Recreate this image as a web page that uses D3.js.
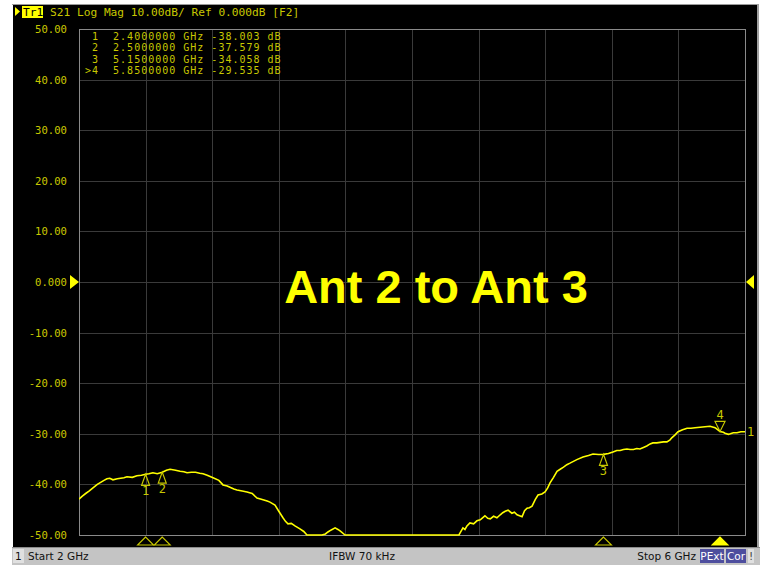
<!DOCTYPE html>
<html>
<head>
<meta charset="utf-8">
<script src="https://cdn.jsdelivr.net/npm/d3@7"></script>
<style>
  body { margin:0; background:#fff; }
  svg text { font-family:"DejaVu Sans Mono", monospace; }
</style>
</head>
<body>
<svg width="763" height="565"></svg>
<script>
// S21 trace, Ant 2 to Ant 3 (GHz, dB)
const freqs = [2.000,2.020,2.040,2.062,2.084,2.110,2.130,2.150,2.168,2.185,2.204,2.230,2.250,2.270,2.288,2.320,2.348,2.375,2.400,2.420,2.444,2.470,2.500,2.525,2.547,2.580,2.607,2.630,2.649,2.675,2.700,2.725,2.745,2.770,2.805,2.840,2.865,2.890,2.910,2.930,2.949,2.980,3.009,3.040,3.069,3.090,3.110,3.130,3.147,3.177,3.200,3.225,3.240,3.255,3.275,3.297,3.327,3.350,3.369,3.420,3.459,3.480,3.495,3.515,3.538,3.555,3.568,3.598,3.700,3.850,4.000,4.150,4.282,4.294,4.306,4.318,4.330,4.348,4.370,4.390,4.410,4.438,4.455,4.470,4.490,4.510,4.530,4.545,4.560,4.577,4.600,4.615,4.631,4.646,4.661,4.676,4.691,4.705,4.721,4.740,4.757,4.780,4.799,4.815,4.829,4.850,4.871,4.890,4.910,4.930,4.949,4.990,5.027,5.060,5.087,5.120,5.150,5.180,5.207,5.230,5.250,5.270,5.291,5.310,5.330,5.350,5.369,5.390,5.410,5.430,5.447,5.470,5.490,5.510,5.531,5.550,5.560,5.580,5.598,5.625,5.652,5.675,5.700,5.730,5.760,5.790,5.820,5.850,5.870,5.880,5.900,5.912,5.930,5.952,5.975,6.000];
const s21 = [-42.9,-42.3,-41.8,-41.3,-40.7,-40.0,-39.6,-39.2,-38.9,-38.8,-39.1,-38.9,-38.8,-38.7,-38.5,-38.6,-38.3,-38.2,-38.0,-37.9,-37.7,-37.9,-37.6,-37.2,-37.0,-37.2,-37.4,-37.5,-37.7,-37.6,-37.6,-37.8,-37.9,-38.2,-38.7,-39.2,-40.1,-40.3,-40.6,-40.9,-41.1,-41.3,-41.5,-41.8,-42.7,-42.9,-43.1,-43.3,-43.5,-44.1,-45.3,-46.6,-47.3,-47.8,-47.7,-48.2,-48.8,-49.3,-50.2,-51.5,-50.2,-49.8,-49.4,-49.0,-48.6,-48.9,-49.2,-50.3,-53.0,-56.0,-57.0,-54.0,-50.4,-49.3,-48.6,-48.9,-48.2,-47.6,-47.8,-47.2,-47.0,-46.2,-46.7,-46.8,-46.3,-46.6,-46.0,-45.6,-45.3,-45.1,-45.7,-45.5,-46.0,-46.2,-46.4,-45.2,-44.7,-44.6,-44.3,-43.0,-42.1,-41.9,-41.5,-40.7,-39.7,-38.6,-37.4,-37.0,-36.6,-36.1,-35.8,-35.1,-34.6,-34.3,-34.0,-34.1,-34.058,-33.9,-33.6,-33.3,-33.3,-33.1,-33.0,-33.1,-33.1,-32.9,-33.0,-32.7,-32.4,-32.0,-31.8,-31.8,-31.7,-31.6,-31.6,-31.2,-30.8,-30.2,-29.6,-29.2,-28.9,-28.9,-28.8,-28.7,-28.6,-28.5,-28.8,-29.535,-29.7,-29.9,-30.1,-30.0,-29.8,-29.8,-29.6,-29.6];

const markerId   = ['1','2','3','>4'];
const markerFreq = [2.4, 2.5, 5.15, 5.85];
const markerDb   = [-38.003, -37.579, -34.058, -29.535];

const yTicks = [50,40,30,20,10,0,-10,-20,-30,-40,-50];
const yTickText = ['50.00','40.00','30.00','20.00','10.00','0.000','-10.00','-20.00','-30.00','-40.00','-50.00'];

const header = 'S21 Log Mag 10.00dB/ Ref 0.000dB [F2]';
const title = 'Ant 2 to Ant 3';
const statusStart = 'Start 2 GHz', statusIfbw = 'IFBW 70 kHz', statusStop = 'Stop 6 GHz';

const L=79, R=745, T=29, B=535;
const yel='#ffff00', dim='#c8c800', grid='#3a3a3a';

const svg = d3.select('svg');
const x = d3.scaleLinear().domain([2,6]).range([L,R]);
const y = d3.scaleLinear().domain([-50,50]).range([B,T]);

// screen background
svg.append('rect').attr('x',13).attr('y',4).attr('width',745).attr('height',544).attr('fill','#000');
svg.append('line').attr('x1',12).attr('x2',759).attr('y1',4.5).attr('y2',4.5).attr('stroke','#9a9a9a');
svg.append('line').attr('x1',758).attr('x2',758).attr('y1',4).attr('y2',548).attr('stroke','#a0a0a0').attr('stroke-width',2);

// grid
const g = svg.append('g');
g.selectAll('line.v').data(d3.range(2.4,6,0.4)).enter().append('line')
  .attr('x1',d=>Math.round(x(d))+0.5).attr('x2',d=>Math.round(x(d))+0.5)
  .attr('y1',T).attr('y2',B).attr('stroke',grid);
g.selectAll('line.h').data(yTicks.slice(1,-1)).enter().append('line')
  .attr('x1',L).attr('x2',R)
  .attr('y1',d=>Math.round(y(d))+0.5).attr('y2',d=>Math.round(y(d))+0.5).attr('stroke',grid);
g.append('rect').attr('x',L+0.5).attr('y',T+0.5).attr('width',R-L).attr('height',B-T)
  .attr('fill','none').attr('stroke','#8a8a8a');

// y tick labels
svg.selectAll('text.yt').data(yTicks).enter().append('text')
  .attr('x',67).attr('y',d=>y(d)+4).attr('text-anchor','end')
  .attr('font-size',10.6).attr('fill',dim).text((d,i)=>yTickText[i]);

// reference level arrows
svg.append('path').attr('d',`M70,${y(0)-7}L79,${y(0)}L70,${y(0)+7}Z`).attr('fill',yel);
svg.append('path').attr('d',`M754,${y(0)-7}L746,${y(0)}L754,${y(0)+7}Z`).attr('fill',yel);

// header
svg.append('path').attr('d','M15,7L20,11.5L15,16Z').attr('fill',yel);
svg.append('rect').attr('x',22).attr('y',6).attr('width',21).attr('height',12).attr('fill',yel);
svg.append('text').attr('x',23).attr('y',16).attr('font-size',11.2).attr('fill','#000').text('Tr1');
svg.append('text').attr('x',50).attr('y',16).attr('font-size',11.2).attr('fill',dim).text(header);

// marker table
const rows = markerId.map((m,i)=>({m, f:markerFreq[i], v:markerDb[i]}));
svg.selectAll('text.mt').data(rows).enter().append('text')
  .attr('x',85).attr('y',(d,i)=>40+i*11.3).attr('font-size',10).attr('letter-spacing',1)
  .attr('fill',dim).attr('xml:space','preserve')
  .text(d=>`${d.m.padStart(2,' ')}  ${d.f.toFixed(7)} GHz ${d.v.toFixed(3)} dB`);

// trace
const clip = svg.append('clipPath').attr('id','pc');
clip.append('rect').attr('x',L).attr('y',T).attr('width',R-L).attr('height',B-T+1);
const pts = freqs.map((f,i)=>[f, Math.max(-50, s21[i])]);
svg.append('path').datum(pts).attr('clip-path','url(#pc)')
  .attr('d', d3.line().x(d=>x(d[0])).y(d=>y(d[1])))
  .attr('fill','none').attr('stroke',yel).attr('stroke-width',1.6);

// trace label at end
svg.append('text').attr('x',747).attr('y',y(s21[s21.length-1])+4).attr('font-size',12).attr('fill',dim).text('1');

// markers on trace
rows.forEach(d=>{
  const mx=x(d.f), my=y(d.v), active = d.m.startsWith('>');
  const num = d.m.replace('>','');
  if (!active) {
    svg.append('path').attr('d',`M${mx},${my}L${mx-4},${my+11}L${mx+4},${my+11}Z`)
      .attr('fill','none').attr('stroke',dim).attr('stroke-width',1.2);
    svg.append('text').attr('x',mx).attr('y',my+21).attr('text-anchor','middle')
      .attr('font-size',12).attr('fill',dim).text(num);
  } else {
    svg.append('path').attr('d',`M${mx},${my}L${mx-5},${my-10}L${mx+5},${my-10}Z`)
      .attr('fill','none').attr('stroke',dim).attr('stroke-width',1.2);
    svg.append('text').attr('x',mx).attr('y',my-12).attr('text-anchor','middle')
      .attr('font-size',12).attr('fill',dim).text(num);
  }
  // stimulus markers under the axis
  svg.append('path').attr('d',`M${mx},${B+2}L${mx-8},${B+10}L${mx+8},${B+10}Z`)
    .attr('fill',active?yel:'none').attr('stroke',active?yel:dim).attr('stroke-width',1.1);
});

// title
svg.append('text').attr('x',436).attr('y',303).attr('text-anchor','middle')
  .style('font-family','"Liberation Sans", Arial, sans-serif').attr('font-weight','bold')
  .attr('font-size',47).attr('fill',yel).text(title);

// status bar
svg.append('rect').attr('x',12).attr('y',547).attr('width',748).attr('height',18).attr('fill','#c4c4c4');
svg.append('line').attr('x1',12).attr('x2',760).attr('y1',547.5).attr('y2',547.5).attr('stroke','#8c8c8c');
svg.append('rect').attr('x',13).attr('y',549).attr('width',11).attr('height',14).attr('fill','#e0e0e0');
const sans = '"DejaVu Sans", sans-serif';
const st = (tx,ty,anchor,txt,fill) => svg.append('text').attr('x',tx).attr('y',ty)
  .attr('text-anchor',anchor).style('font-family',sans).attr('font-size',10.5).attr('fill',fill).text(txt);
st(15,560,'start','1','#111');
st(28,560,'start',statusStart,'#111');
st(362,560,'middle',statusIfbw,'#111');
st(696,560,'end',statusStop,'#111');
svg.append('rect').attr('x',700).attr('y',549).attr('width',24).attr('height',14).attr('fill','#4e4e9e');
st(712,560,'middle','PExt','#fff');
svg.append('rect').attr('x',726).attr('y',549).attr('width',20).attr('height',14).attr('fill','#4e4e9e');
st(736,560,'middle','Cor','#fff');
svg.append('rect').attr('x',748).attr('y',549).attr('width',6).attr('height',14).attr('fill','#e0e0e0');
st(751,560,'middle','!','#444');
</script>
</body>
</html>
